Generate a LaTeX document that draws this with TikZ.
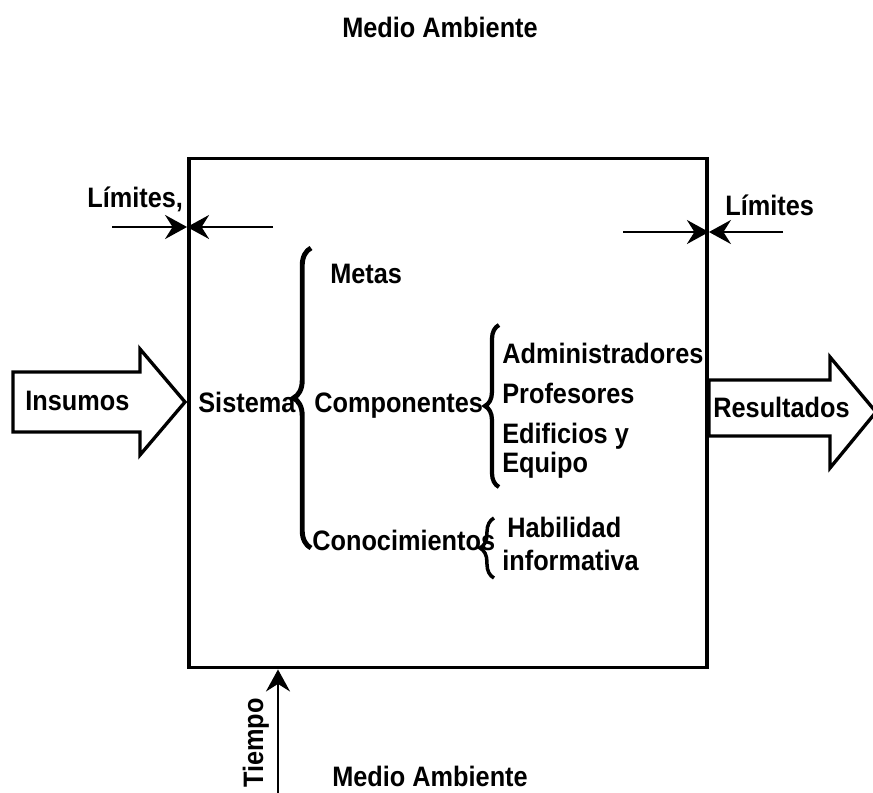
\documentclass[tikz,border=0pt]{standalone}
\usepackage{fontspec}
\setmainfont{Liberation Sans}[FakeStretch=0.9]
\usetikzlibrary{arrows.meta, decorations.pathreplacing, positioning}
\tikzstyle{txt} = [font=\fontsize{16}{19}\selectfont\bfseries, inner sep=0pt]
\tikzstyle{bigbrace} = [decorate, decoration={brace, amplitude=10pt}, line width=2.8pt]
\tikzstyle{limarrow} = [line width=1.5pt, -{Stealth[length=4.4mm, width=4.8mm, inset=1.5mm]}]
\tikzstyle{blockarrow} = [line width=1.9pt, draw=black, fill=white, line join=miter]
\begin{document}
\begin{tikzpicture}[x=0.02cm, y=-0.02cm]
	\useasboundingbox (0,0) rectangle (873,792);

	% system box
	\node (sistemabox) [draw, line width=2.2pt, minimum width=518*0.02cm, minimum height=509*0.02cm, inner sep=0pt] at (448,413) {};

	% input and output
	\draw [blockarrow] (13,372) -- (140,372) -- (140,349) -- (185,402) -- (140,455) -- (140,432) -- (13,432) -- cycle;
	\node (insumos) [txt, anchor=base west] at (25,410) {Insumos};
	\draw [blockarrow] (sistemabox.east |- 0,380) -- (830,380) -- (830,357) -- (876,412) -- (830,468) -- (830,436) -- (sistemabox.east |- 0,436) -- cycle;
	\node (resultados) [txt, anchor=base west] at (713,417) {Resultados};

	% environment
	\node (medio1) [txt, anchor=base west] at (342,37) {Medio Ambiente};
	\node (medio2) [txt, anchor=base west] at (332,786) {Medio Ambiente};

	% limits
	\node (lim1) [txt, anchor=base west] at (87,207) {Límites,};
	\node (lim2) [txt, anchor=base west] at (725,215) {Límites};
	\coordinate (limL) at (sistemabox.west |- 0,227);
	\coordinate (limR) at (sistemabox.east |- 0,232);
	\coordinate (limLa) at (112,227);
	\coordinate (limLb) at (273,227);
	\coordinate (limRa) at (623,232);
	\coordinate (limRb) at (783,232);
	\draw [limarrow] (limLa) -- (limL);
	\draw [limarrow] (limLb) -- (limL);
	\draw [limarrow] (limRa) -- (limR);
	\draw [limarrow] (limRb) -- (limR);

	% time
	\coordinate (tiempo0) at (278,800);
	\coordinate (tiempo1) at (sistemabox.south -| 278,0);
	\draw [limarrow] (tiempo0) -- (tiempo1);
	\node (tiempo) [txt, anchor=base west, rotate=90] at (263,788) {Tiempo};

	% contents
	\node (sistema) [txt, anchor=base west] at (198,412) {Sistema};
	\node (metas) [txt, anchor=base west] at (330,283) {Metas};
	\node (componentes) [txt, anchor=base west] at (314,412) {Componentes};
	\node (conoc) [txt, anchor=base west] at (312,550) {Conocimientos};
	\draw [bigbrace] (311,548) -- (311,248);

	\node (admin) [txt, anchor=base west] at (502,363) {Administradores};
	\node (prof) [txt, anchor=base west] at (502,403) {Profesores};
	\node (edif) [txt, anchor=base west] at (502,443) {Edificios y};
	\node (equipo) [txt, anchor=base west] at (502,472) {Equipo};
	\draw [bigbrace, decoration={amplitude=8pt}, line width=2.4pt] (499,487) -- (499,325);

	\node (habil) [txt, anchor=base west] at (507,537) {Habilidad};
	\node (inform) [txt, anchor=base west] at (502,570) {informativa};
	\draw [bigbrace, decoration={amplitude=8pt}, line width=2pt] (494,578) -- (494,518);
\end{tikzpicture}
\end{document}
